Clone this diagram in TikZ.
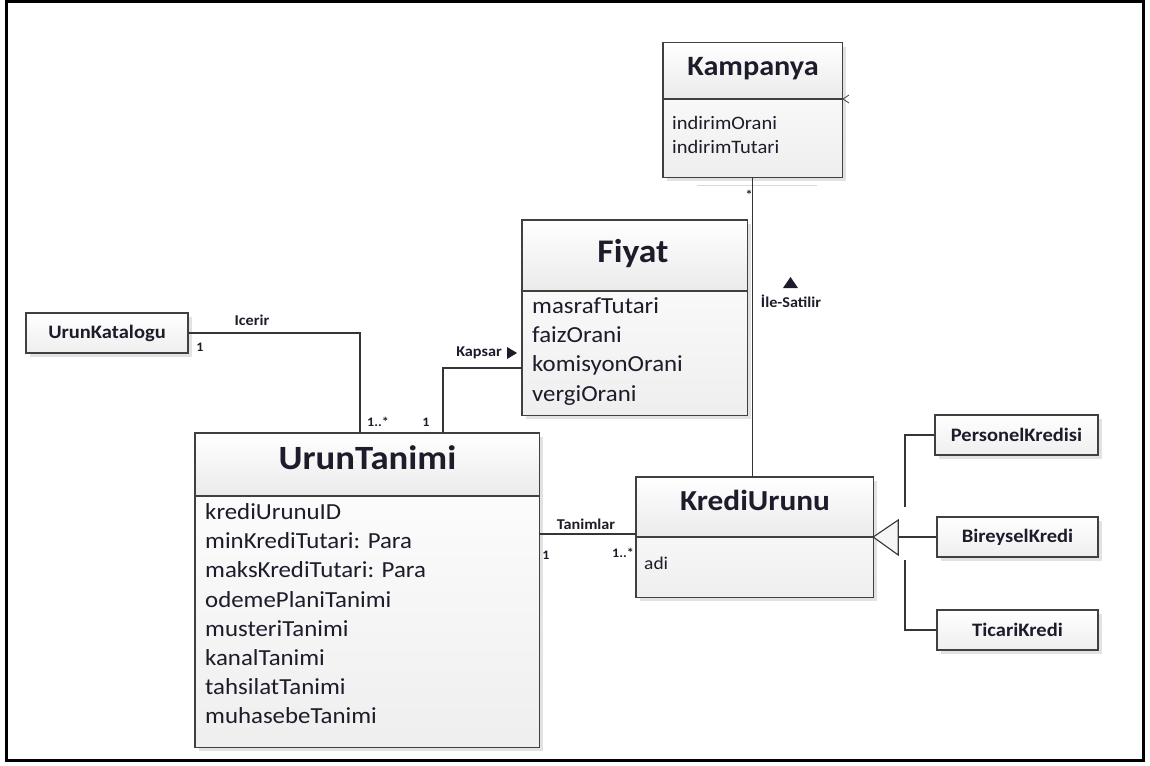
\documentclass[tikz,border=0pt]{standalone}
\usepackage{fontspec}
\setmainfont{Carlito}[FakeStretch=1.08]
\usetikzlibrary{shadows}
\definecolor{ink}{HTML}{1C1C2A}
\definecolor{edge}{HTML}{404040}
\definecolor{wire}{HTML}{353535}
\newcommand\fsz[1]{\fontsize{#1}{#1}\selectfont}
\begin{document}
\begin{tikzpicture}[x=1pt,y=-1pt,
  every node/.style={text=ink, inner sep=0pt},
  classbody/.style={top color=white, bottom color=gray!13,
    drop shadow={shadow xshift=4pt, shadow yshift=-4pt, fill=gray!50, opacity=0.45}},
  headfill/.style={top color=white, bottom color=gray!16},
  border/.style={draw=edge, line width=1.4pt},
  smallbox/.style={classbody, draw=edge, line width=1.4pt, font=\bfseries\fsz{19}},
  title/.style={font=\bfseries\fsz{#1}, text height=0.64em, text depth=0pt},
  attr/.style={font=\fsz{#1}, anchor=west, text height=0.72em, text depth=0.22em},
  wire/.style={draw=wire, line width=1.3pt},
  lbl/.style={font=\bfseries\fsz{15}},
  mult/.style={font=\bfseries\fsz{13}}
]
\useasboundingbox (0,0) rectangle (1150,765);
\draw[line width=3pt] (6,2) rectangle (1143,760);

% ---------- Kampanya ----------
\node[classbody, minimum width=179pt, minimum height=134pt] (kamp) at (752.5,110) {};
\path[headfill] (kamp.north west) rectangle (kamp.east |- 0,99);
\draw[border] (kamp.north west) rectangle (kamp.south east);
\draw[border] (kamp.west |- 0,99) -- (kamp.east |- 0,99);
\node[title=28] (kampT) at (753,72.5) {Kampanya};
\foreach \t [count=\i] in {indirimOrani,indirimTutari}
  \node[attr=19] (kampA\i) at (672,{127+24*(\i-1)}) {\t};
\draw[gray!30, line width=1pt] (697,185) -- (817,185);
\draw[edge, line width=0.8pt] (849,95) -- (843,99) -- (849,103);

% ---------- Fiyat ----------
\node[classbody, minimum width=225pt, minimum height=195pt] (fiyat) at (634.5,317.5) {};
\path[headfill] (fiyat.north west) rectangle (fiyat.east |- 0,291);
\draw[border] (fiyat.north west) rectangle (fiyat.south east);
\draw[border] (fiyat.west |- 0,291) -- (fiyat.east |- 0,291);
\node[title=33] (fiyatT) at (633,259) {Fiyat};
\foreach \t [count=\i] in {masrafTutari,faizOrani,komisyonOrani,vergiOrani}
  \node[attr=23] (fiyatA\i) at (532,{311+29.2*(\i-1)}) {\t};

% ---------- UrunKatalogu ----------
\node[smallbox, minimum width=162pt, minimum height=40pt] (katalog) at (107,333) {UrunKatalogu};

% ---------- UrunTanimi ----------
\node[classbody, minimum width=344pt, minimum height=314pt] (tanim) at (367,590) {};
\path[headfill] (tanim.north west) rectangle (tanim.east |- 0,496);
\draw[border] (tanim.north west) rectangle (tanim.south east);
\draw[border] (tanim.west |- 0,496) -- (tanim.east |- 0,496);
\node[title=34] (tanimT) at (367.5,466) {UrunTanimi};
\foreach \t [count=\i] in {krediUrunuID,minKrediTutari: Para,maksKrediTutari: Para,odemePlaniTanimi,musteriTanimi,kanalTanimi,tahsilatTanimi,muhasebeTanimi}
  \node[attr=23] (tanimA\i) at (205,{517+29.2*(\i-1)}) {\t};

% ---------- KrediUrunu ----------
\node[classbody, minimum width=237pt, minimum height=120pt] (kredi) at (754.5,537) {};
\path[headfill] (kredi.north west) rectangle (kredi.east |- 0,537);
\draw[border] (kredi.north west) rectangle (kredi.south east);
\draw[border] (kredi.west) -- (kredi.east);
\node[title=29] (krediT) at (755,507) {KrediUrunu};
\node[attr=18] (krediA1) at (644,567) {adi};

% ---------- subclasses ----------
\node[smallbox, minimum width=163pt, minimum height=40pt] (personel) at (1016.5,435) {PersonelKredisi};
\node[smallbox, minimum width=161pt, minimum height=40pt] (bireysel) at (1017.5,537) {BireyselKredi};
\node[smallbox, minimum width=161pt, minimum height=40pt] (ticari) at (1017.5,630) {TicariKredi};

% ---------- associations ----------
\coordinate (icA) at (360,433);
\draw[wire] (katalog.east) -| (icA);
\node[lbl] (icLbl) at (252,320) {Icerir};
\node[mult] (icM1) at (200,347) {1};
\node[mult] (icM2) at (378,422) {1..*};

\coordinate (kpA) at (443,433);
\coordinate (kpB) at (522,368);
\draw[wire] (kpA) |- (kpB);
\node[lbl] (kpLbl) at (479,353) {Kapsar};
\fill[ink] (507,347) -- (517,353) -- (507,359) -- cycle;
\node[mult] (kpM1) at (426,422) {1};

\draw[wire] (kamp.south) -- (kamp.south |- kredi.north);
\node[mult] (isM1) at (749,195) {*};
\fill[ink] (783,288) -- (790.5,277) -- (798,288) -- cycle;
\node[lbl] (isLbl) at (791,301) {İle-Satilir};

\coordinate (tnA) at (539,534);
\draw[wire] (tnA) -- (tnA -| kredi.west);
\node[lbl] (tnLbl) at (586,524) {Tanimlar};
\node[mult] (tnM1) at (546,555) {1};
\node[mult] (tnM2) at (623,553) {1..*};

% ---------- generalization ----------
\draw[wire, line width=1.1pt, fill=gray!8] (kredi.east) -- ++(25,-17) -- ++(0,35) -- cycle;
\draw[wire] ([xshift=25pt]kredi.east) -- (bireysel.west);
\draw[wire] (personel.west) -| (905,507);
\draw[wire] (ticari.west) -| (905,560);
\end{tikzpicture}
\end{document}
